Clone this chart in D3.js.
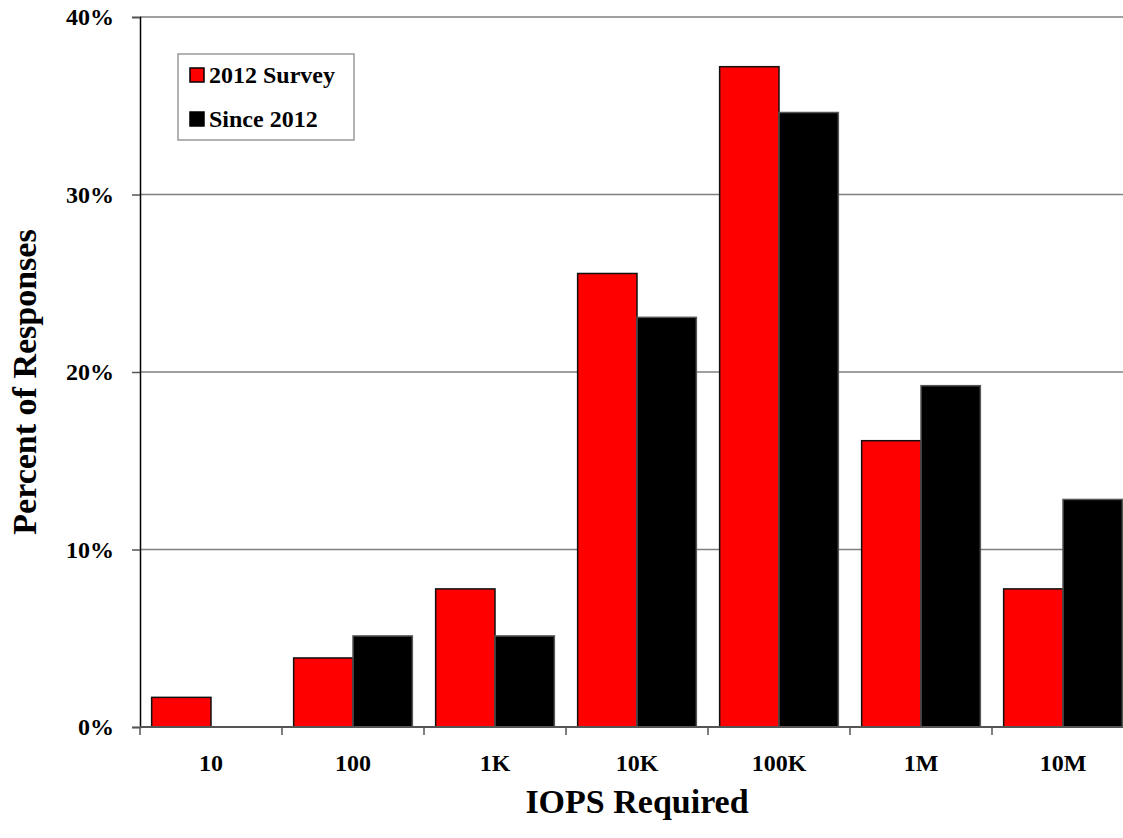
<!DOCTYPE html>
<html>
<head>
<meta charset="utf-8">
<script src="https://cdn.jsdelivr.net/npm/d3@7"></script>
<style>
  body { margin: 0; background: #fff; overflow: hidden; }
  svg text { font-family: "Liberation Serif", "DejaVu Serif", serif; font-weight: bold; fill: #000; }
</style>
</head>
<body>
<div id="container"></div>
<script>
/* CONSTANTS AND GLOBALS */
const width = 1123,
  height = 838,
  margin = { top: 17, bottom: 111, left: 140, right: -11 };

// data
const categories = ["10", "100", "1K", "10K", "100K", "1M", "10M"];
const seriesNames = ["2012 Survey", "Since 2012"];
const survey2012 = [1.67, 3.89, 7.78, 25.55, 37.2, 16.13, 7.78];
const since2012 = [0, 5.13, 5.13, 23.08, 34.62, 19.23, 12.82];
const yTicks = [0, 10, 20, 30, 40];

const colors = ["#ff0000", "#000000"];

const data = categories.map((c, i) => ({ cat: c, values: [survey2012[i], since2012[i]] }));

const svg = d3.select("#container")
  .append("svg")
  .attr("width", width)
  .attr("height", height);

// + SCALES
const xScale = d3.scaleBand()
  .domain(categories)
  .range([margin.left, width - margin.right])
  .paddingInner(0.164)
  .paddingOuter(0.082);

const xSub = d3.scaleBand()
  .domain(seriesNames)
  .range([0, xScale.bandwidth()]);

const yScale = d3.scaleLinear()
  .domain([0, 40])
  .range([height - margin.bottom, margin.top]);

// gridlines
svg.append("g")
  .selectAll("line")
  .data(yTicks.filter(d => d > 0))
  .join("line")
  .attr("x1", margin.left)
  .attr("x2", width - margin.right)
  .attr("y1", d => yScale(d))
  .attr("y2", d => yScale(d))
  .attr("stroke", "#7f7f7f")
  .attr("stroke-width", 1.5);

// + DRAW BARS
const groups = svg.append("g")
  .selectAll("g")
  .data(data)
  .join("g")
  .attr("transform", d => `translate(${xScale(d.cat)}, 0)`);

groups.selectAll("rect")
  .data(d => d.values.map((v, j) => ({ v, j })))
  .join("rect")
  .filter(d => d.v > 0)
  .attr("x", d => xSub(seriesNames[d.j]))
  .attr("width", xSub.bandwidth())
  .attr("y", d => yScale(d.v))
  .attr("height", d => yScale(0) - yScale(d.v))
  .attr("fill", d => colors[d.j])
  .attr("stroke", d => d.j === 0 ? "#111" : "#555")
  .attr("stroke-width", 1.5);

// + AXES
const yAxis = d3.axisLeft(yScale)
  .tickValues(yTicks)
  .tickFormat(d => d + "%")
  .tickSize(8)
  .tickPadding(10);

const yAxisGroup = svg.append("g")
  .attr("transform", `translate(${margin.left}, 0)`)
  .call(yAxis)
  .attr("font-family", null);

yAxisGroup.select(".domain").attr("stroke", "#000").attr("stroke-width", 1.5);
yAxisGroup.selectAll(".tick line").attr("stroke", "#555").attr("stroke-width", 1.5);
yAxisGroup.selectAll(".tick text")
  .attr("font-size", 24)
  .attr("dy", "0.33em")
  .attr("x", -26);

// x axis line with ticks at category boundaries
const xAxisGroup = svg.append("g");
xAxisGroup.append("line")
  .attr("x1", margin.left)
  .attr("x2", width - margin.right)
  .attr("y1", yScale(0))
  .attr("y2", yScale(0))
  .attr("stroke", "#555")
  .attr("stroke-width", 2);

xAxisGroup.selectAll("line.tick")
  .data(categories)
  .join("line")
  .attr("class", "tick")
  .attr("x1", d => xScale(d) - xScale.step() * xScale.paddingOuter())
  .attr("x2", d => xScale(d) - xScale.step() * xScale.paddingOuter())
  .attr("y1", yScale(0))
  .attr("y2", yScale(0) + 8)
  .attr("stroke", "#555")
  .attr("stroke-width", 1.5);

xAxisGroup.selectAll("text")
  .data(categories)
  .join("text")
  .attr("x", d => xScale(d) + xScale.bandwidth() / 2)
  .attr("y", 771)
  .attr("text-anchor", "middle")
  .attr("font-size", 24)
  .text(d => d);

// axis titles
svg.append("text")
  .attr("transform", `translate(${(margin.left + width - margin.right) / 2}, 813)`)
  .attr("text-anchor", "middle")
  .attr("font-size", 34)
  .text("IOPS Required");

svg.append("text")
  .attr("transform", `translate(36, ${(margin.top + height - margin.bottom) / 2 + 10}) rotate(-90)`)
  .attr("text-anchor", "middle")
  .attr("font-size", 34)
  .text("Percent of  Responses");

// + LEGEND
const legend = svg.append("g").attr("transform", "translate(178, 54)");
legend.append("rect")
  .attr("width", 176)
  .attr("height", 86)
  .attr("fill", "#fff")
  .attr("stroke", "#999")
  .attr("stroke-width", 1.5);

const items = legend.selectAll("g.item")
  .data(seriesNames)
  .join("g")
  .attr("class", "item")
  .attr("transform", (d, i) => `translate(12, ${14 + i * 44})`);

items.append("rect")
  .attr("width", 14)
  .attr("height", 14)
  .attr("fill", (d, i) => colors[i])
  .attr("stroke", "#000")
  .attr("stroke-width", 1.5);

items.append("text")
  .attr("x", 19)
  .attr("y", 15)
  .attr("font-size", 24)
  .text(d => d);
</script>
</body>
</html>
